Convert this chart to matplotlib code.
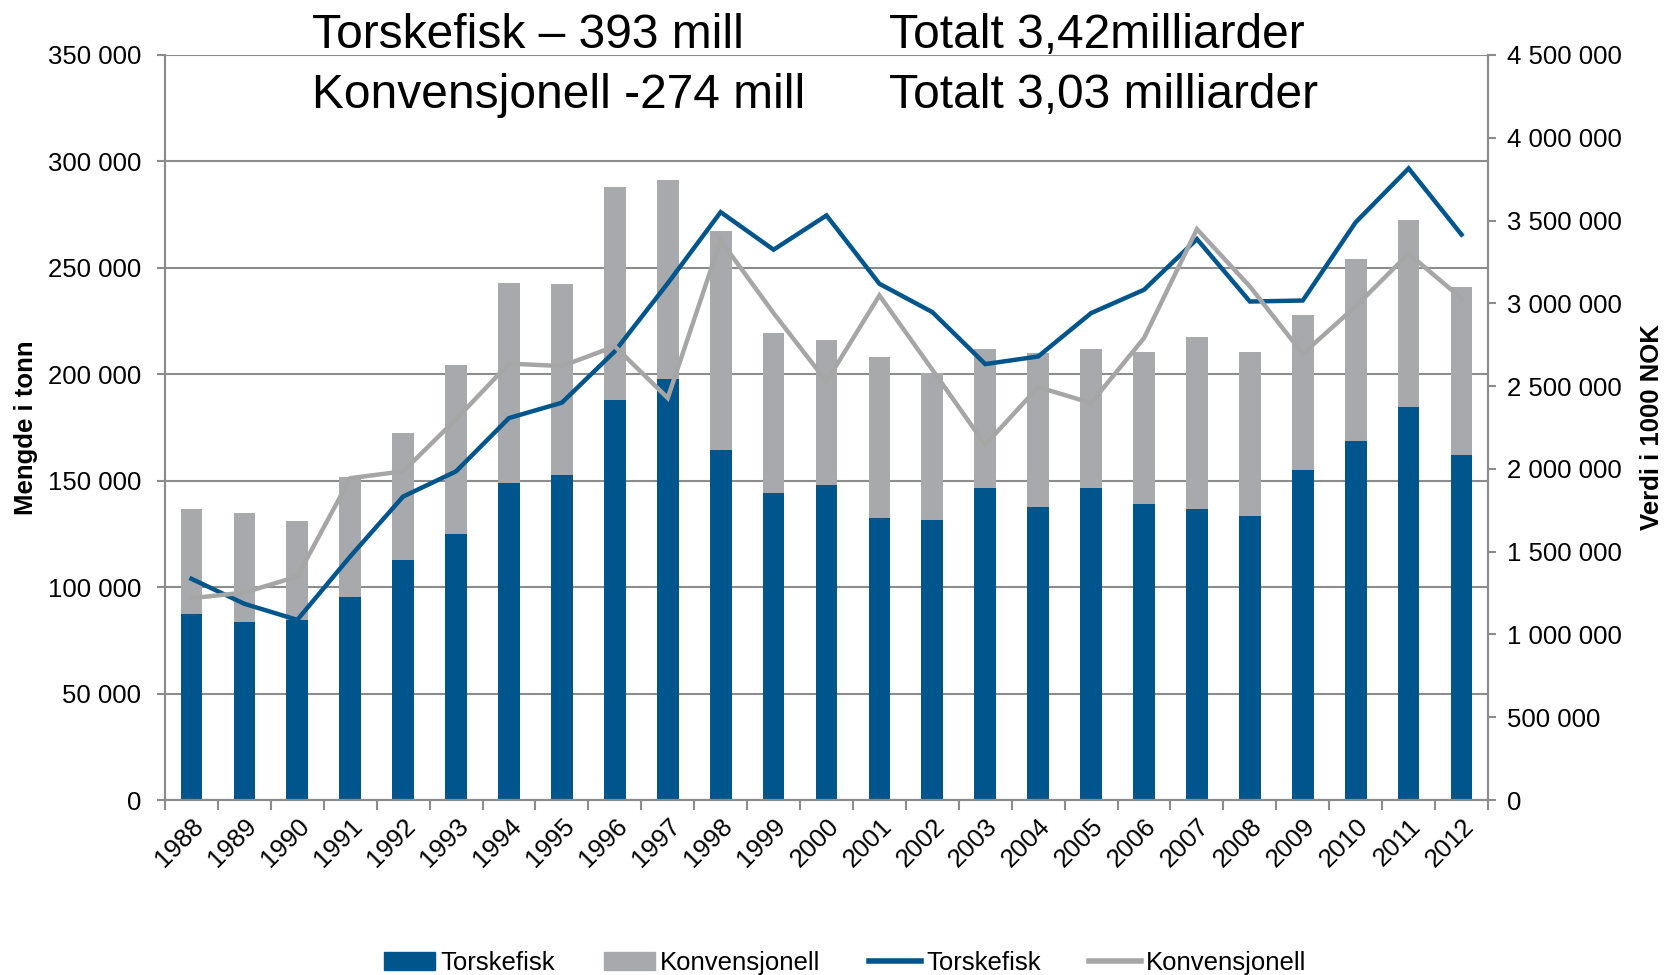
import matplotlib
matplotlib.use("Agg")
import matplotlib.pyplot as plt
from matplotlib.patches import Patch
from matplotlib.lines import Line2D
from matplotlib.ticker import FuncFormatter, FixedLocator
import numpy as np

plt.rcParams['font.family'] = ['Liberation Sans', 'DejaVu Sans']

years = list(range(1988, 2013))
# Quantity (tonnes) - stacked bars
torsk_tonn = [87500, 83500, 84600, 95500, 112800, 125100, 148900, 152500,
              187700, 197900, 164300, 144000, 147800, 132600, 131500, 146700,
              137800, 146400, 139200, 136500, 133500, 155100, 168800, 184800, 162000]
total_tonn = [136900, 134800, 131000, 151900, 172400, 204200, 242700, 242400,
              287800, 291100, 267400, 219500, 216200, 207900, 200600, 212100,
              209900, 212100, 210400, 217300, 210700, 227800, 254300, 272300, 241100]
konv_tonn = [t - b for t, b in zip(total_tonn, torsk_tonn)]

# Value (1000 NOK) - lines
torsk_verdi = [1336000, 1185000, 1088000, 1471000, 1833000, 1985000, 2307000, 2400000,
               2710000, 3121000, 3551000, 3324000, 3531000, 3118000, 2947000, 2633000,
               2679000, 2941000, 3082000, 3388000, 3011000, 3017000, 3490000, 3815000, 3415000]
konv_verdi = [1219000, 1253000, 1350000, 1944000, 1985000, 2300000, 2636000, 2621000,
              2740000, 2428000, 3380000, 2941000, 2528000, 3048000, 2599000, 2146000,
              2494000, 2398000, 2790000, 3448000, 3102000, 2695000, 2982000, 3300000, 3030000]

blue = '#00568C'
gray_bar = '#A7A9AC'
gray_line = '#A6A6A6'
grid_c = '#8C8C8C'

fig = plt.figure(figsize=(16.7, 9.75), dpi=100)
ax = fig.add_axes([165/1670, 175/975, (1488-165)/1670, (800-55)/975])
x = np.arange(len(years))
w = 0.41
ax.bar(x, torsk_tonn, width=w, color=blue, zorder=2)
ax.bar(x, konv_tonn, width=w, bottom=torsk_tonn, color=gray_bar, zorder=2)

ax.set_xlim(-0.5, len(years) - 0.5)
ax.set_ylim(0, 350000)
ax.set_yticks(np.arange(0, 350001, 50000))
fmt = FuncFormatter(lambda v, p: f"{int(v):,}".replace(",", " "))
ax.yaxis.set_major_formatter(fmt)
ax.set_axisbelow(True)
ax.yaxis.grid(True, color=grid_c, linewidth=1.5)

ax.set_xticks(x)
ax.set_xticklabels([str(y) for y in years], rotation=45, ha='right', va='top',
                   rotation_mode='anchor', fontsize=18.5)
ax.xaxis.set_minor_locator(FixedLocator(np.arange(-0.5, len(years), 1.0)))
ax.tick_params(axis='x', which='major', length=0, pad=10)
ax.tick_params(axis='x', which='minor', length=7, width=1.5, color=grid_c)
ax.tick_params(axis='y', length=6, width=1.5, color=grid_c, labelsize=18.5, pad=11)

ax.spines['top'].set_visible(False)
for s in ['left', 'right', 'bottom']:
    ax.spines[s].set_color(grid_c)
    ax.spines[s].set_linewidth(1.5)

ax.set_ylabel('Mengde i tonn', fontsize=18.5, fontweight='bold')
ax.yaxis.set_label_coords(-(165-38)/1323, 0.5)

ax2 = ax.twinx()
ax2.plot(x, torsk_verdi, color=blue, linewidth=3.2, zorder=3, solid_joinstyle='miter')
ax2.plot(x, konv_verdi, color=gray_line, linewidth=3.2, zorder=3, solid_joinstyle='miter')
ax2.set_ylim(0, 4500000)
ax2.set_yticks(np.arange(0, 4500001, 500000))
ax2.yaxis.set_major_formatter(fmt)
ax2.tick_params(axis='y', length=6, width=1.5, color=grid_c, labelsize=18.5, pad=8)
ax2.spines['top'].set_visible(False)
for s in ['left', 'right', 'bottom']:
    ax2.spines[s].set_color(grid_c)
    ax2.spines[s].set_linewidth(1.5)
ax2.set_ylabel('Verdi i 1000 NOK', fontsize=18.5, fontweight='bold')
ax2.yaxis.set_label_coords((1640-165)/1323, 0.5)

# Header texts
fig.text(312/1670, 1 - 36/975, 'Torskefisk – 393 mill', fontsize=34.5, va='center', ha='left')
fig.text(312/1670, 1 - 95/975, 'Konvensjonell -274 mill', fontsize=34.5, va='center', ha='left')
fig.text(889/1670, 1 - 36/975, 'Totalt 3,42milliarder', fontsize=34.5, va='center', ha='left')
fig.text(889/1670, 1 - 95/975, 'Totalt 3,03 milliarder', fontsize=34.5, va='center', ha='left')

handles = [Patch(color=blue), Patch(color=gray_bar),
           Line2D([0], [0], color=blue, linewidth=4),
           Line2D([0], [0], color=gray_line, linewidth=4)]
labels = ['Torskefisk', 'Konvensjonell', 'Torskefisk', 'Konvensjonell']
fig.legend(handles, labels, loc='center', bbox_to_anchor=(0.506, 12/975), ncol=4,
           frameon=False, fontsize=18.5, handlelength=2.0, handletextpad=0.2,
           columnspacing=1.9, borderpad=0, borderaxespad=0)

fig.savefig('out.png', dpi=100)
